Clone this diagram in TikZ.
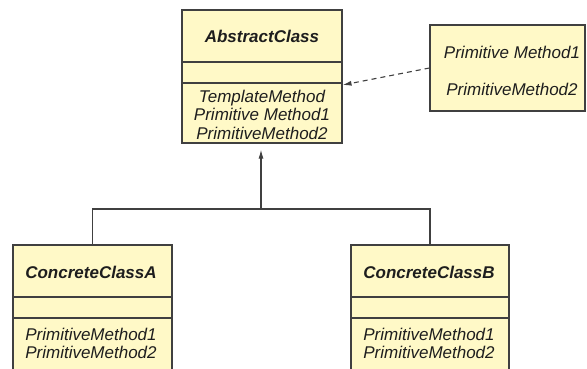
\documentclass[tikz,border=0pt]{standalone}
\usepackage{fontspec}
\setmainfont{Liberation Sans}
\definecolor{classfill}{RGB}{255,249,199}
\definecolor{classline}{RGB}{64,64,64}
\definecolor{classtext}{RGB}{30,30,30}
\usepackage{tikz}
\usetikzlibrary{shapes,arrows.meta,positioning,calc}

\tikzset{
    classbox/.style={draw=classline, line width=1.1pt, fill=classfill, inner sep=0pt},
    classname/.style={font=\fontsize{17}{18.5}\selectfont\bfseries\itshape, text=classtext},
    methods/.style={font=\fontsize{17}{18.5}\selectfont\itshape, text=classtext, align=center, inner sep=0pt},
    link/.style={draw=classline, line width=1.1pt}
}

\begin{document}
\begin{tikzpicture}[x=1pt, y=-1pt]
    \clip (0,0) rectangle (587,369);

    % Abstract class
    \node[classbox, minimum width=160pt, minimum height=133pt] (abstract) at (262,76.5) {};
    \draw[link] (182,62) -- (342,62);
    \draw[link] (182,83) -- (342,83);
    \node[classname] (abstract-name) at (262,36) {AbstractClass};
    \node[methods] (abstract-ops) at (262,114.5) {TemplateMethod\\Primitive Method1\\PrimitiveMethod2};

    % Note
    \node[classbox, minimum width=155pt, minimum height=86pt] (note) at (507.5,68) {};
    \node[methods] (note-one) at (512,52) {Primitive Method1};
    \node[methods] (note-two) at (512,89) {PrimitiveMethod2};

    % Concrete classes
    \node[classbox, minimum width=159pt, minimum height=150pt] (concA) at (92.5,320) {};
    \draw[link] (13,297) -- (172,297);
    \draw[link] (13,318) -- (172,318);
    \node[classname] (concA-name) at (91,272) {ConcreteClassA};
    \node[methods] (concA-ops) at (91,343.5) {PrimitiveMethod1\\PrimitiveMethod2};

    \node[classbox, minimum width=158pt, minimum height=150pt] (concB) at (430,320) {};
    \draw[link] (351,297) -- (509,297);
    \draw[link] (351,318) -- (509,318);
    \node[classname] (concB-name) at (429,272) {ConcreteClassB};
    \node[methods] (concB-ops) at (429,343.5) {PrimitiveMethod1\\PrimitiveMethod2};

    % Arrows
    \coordinate (joint) at (261,209);
    \draw[link] (concA.north) |- (joint) -| (concB.north);
    \draw[link, -{Latex[length=9pt,width=5pt]}, shorten >=6pt] (joint) -- (joint |- abstract.south);
    \draw[link, dash pattern=on 5pt off 4pt, -{Latex[length=9pt,width=5pt]}]
        (note.west) -- ([yshift=-8.5pt]abstract.east);
\end{tikzpicture}
\end{document}
